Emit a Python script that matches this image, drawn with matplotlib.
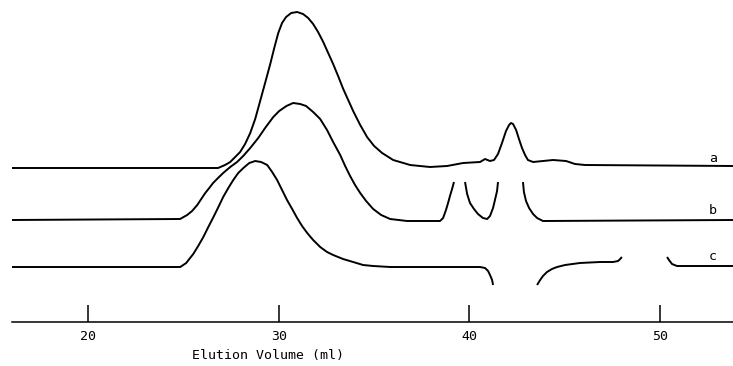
import numpy as np
import matplotlib
matplotlib.use('Agg')
import matplotlib.pyplot as plt

nan = np.nan

# trace a (signal above its own baseline)
vol_a = [16.00, 26.81, 27.18, 27.45, 27.71, 27.97, 28.23, 28.50, 28.76, 29.02,
         29.28, 29.55, 29.76, 29.97, 30.17, 30.38, 30.65, 30.96, 31.27, 31.54,
         31.80, 32.06, 32.33, 32.59, 32.85, 33.11, 33.38, 33.64, 33.90, 34.27,
         34.63, 35.00, 35.42, 36.00, 36.89, 37.93, 38.83, 39.67, 40.56, 40.82,
         41.08, 41.29, 41.50, 41.71, 41.92, 42.08, 42.18, 42.29, 42.45, 42.60,
         42.76, 42.92, 43.07, 43.34, 43.86, 44.39, 45.07, 45.54, 46.07, 53.83]
sig_a = [0.0, 0.0, 0.3, 0.6, 1.1, 1.6, 2.4, 3.5, 4.9, 6.7,
         8.5, 10.4, 12.0, 13.5, 14.5, 15.1, 15.5, 15.6, 15.4, 15.0,
         14.4, 13.6, 12.6, 11.5, 10.4, 9.2, 7.9, 6.8, 5.7, 4.3,
         3.1, 2.2, 1.5, 0.8, 0.3, 0.1, 0.2, 0.5, 0.6, 0.9,
         0.7, 0.8, 1.4, 2.5, 3.7, 4.3, 4.5, 4.4, 3.8, 2.9,
         2.0, 1.3, 0.8, 0.6, 0.7, 0.8, 0.7, 0.4, 0.3, 0.2]

# trace b (off-scale parts left out)
vol_b = [16.00, 24.82, 25.19, 25.45, 25.72, 25.93, 26.14, 26.35, 26.55, 26.81,
         27.08, 27.45, 27.81, 28.13, 28.50, 28.92, 29.28, 29.71, 30.02, 30.40,
         30.75, 31.12, 31.43, 31.80, 32.17, 32.53, 32.85, 33.22, 33.48, 33.74,
         34.00, 34.27, 34.58, 34.95, 35.37, 35.84, 36.73, 38.46, 38.62, 38.77,
         38.88, 38.98, 39.09, 39.19, nan,
         39.77, 39.88, 40.03, 40.24, 40.45, 40.71, 40.93, 41.08, 41.24, 41.34,
         41.45, 41.50, nan,
         42.81, 42.86, 42.97, 43.13, 43.34, 43.55, 43.86, 53.83]
sig_b = [0.0, 0.1, 0.5, 0.9, 1.5, 2.1, 2.7, 3.2, 3.7, 4.2,
         4.7, 5.3, 5.8, 6.4, 7.2, 8.2, 9.2, 10.3, 10.9, 11.4,
         11.7, 11.6, 11.4, 10.8, 10.1, 9.0, 7.8, 6.5, 5.4, 4.4,
         3.5, 2.7, 1.9, 1.1, 0.5, 0.1, -0.1, -0.1, 0.2, 1.0,
         1.7, 2.4, 3.1, 3.8, nan,
         3.8, 2.6, 1.7, 1.1, 0.6, 0.2, 0.1, 0.4, 1.2, 2.0,
         2.9, 3.8, nan,
         3.8, 2.8, 1.9, 1.2, 0.6, 0.2, -0.1, 0.0]

# trace c
vol_c = [16.00, 24.83, 25.14, 25.51, 25.77, 26.04, 26.30, 26.57, 26.83, 27.08,
         27.35, 27.61, 27.87, 28.14, 28.45, 28.76, 29.07, 29.39, 29.65, 29.91,
         30.17, 30.43, 30.70, 30.96, 31.22, 31.49, 31.80, 32.17, 32.53, 32.85,
         33.37, 33.90, 34.42, 34.95, 35.84, 40.56, 40.82, 40.98, 41.08, 41.19,
         41.24, nan,
         43.55, 43.71, 43.86, 44.07, 44.33, 44.60, 45.02, 45.80, 46.85, 47.54,
         47.80, 47.91, 48.00, nan,
         50.37, 50.47, 50.63, 50.89, 51.57, 53.83]
sig_c = [0.0, 0.0, 0.4, 1.3, 2.1, 3.0, 4.0, 5.0, 6.0, 7.0,
         7.9, 8.7, 9.4, 9.9, 10.4, 10.6, 10.5, 10.2, 9.5, 8.7,
         7.7, 6.7, 5.8, 4.9, 4.1, 3.4, 2.7, 2.0, 1.5, 1.2,
         0.8, 0.5, 0.2, 0.1, 0.0, 0.0, -0.1, -0.4, -0.8, -1.3,
         -1.8, nan,
         -1.8, -1.3, -0.9, -0.5, -0.2, 0.0, 0.2, 0.4, 0.5, 0.5,
         0.6, 0.8, 1.0, nan,
         1.0, 0.7, 0.3, 0.1, 0.1, 0.1]

ticks = [20, 30, 40, 50]
names = ['a', 'b', 'c']

plt.rcParams['font.family'] = ['DejaVu Sans Mono']

fig = plt.figure(figsize=(7.33, 3.66), dpi=100)
ax = fig.add_axes([12 / 733, 44 / 366, 721 / 733, 322 / 366])

# vertical offsets of the three traces
offsets = [15.4, 10.2, 5.5]
series = [(vol_a, sig_a), (vol_b, sig_b), (vol_c, sig_c)]
for (v, s), off, name in zip(series, offsets, names):
    y = np.array(s) + off
    ax.plot(v, y, color='black', lw=1.4, solid_joinstyle='round',
            solid_capstyle='butt')
    ax.text(52.78, off + 1.0, name, fontsize=9.5, ha='center', va='center')

ax.set_xlim(16.0, 53.83)
ax.set_ylim(0, 32.2)
for side in ['top', 'left', 'right']:
    ax.spines[side].set_visible(False)
ax.spines['bottom'].set_linewidth(1.1)
ax.set_yticks([])
ax.set_xticks(ticks)
ax.tick_params(axis='x', direction='in', length=12, width=1.1, pad=6,
               labelsize=9.5)
ax.set_xlabel('Elution Volume (ml)', fontsize=9.5)
ax.xaxis.set_label_coords(0.355, -0.085)

fig.savefig('out.png', dpi=100)
